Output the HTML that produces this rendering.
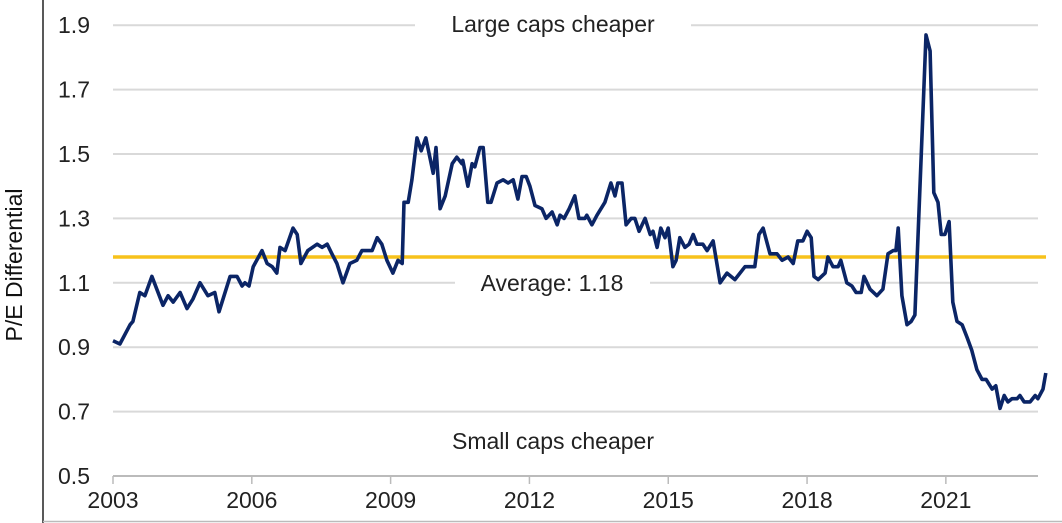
<!DOCTYPE html>
<html><head><meta charset="utf-8"><style>
body{margin:0;background:#fff;}
svg{display:block;font-family:"Liberation Sans",sans-serif;}
</style></head><body>
<svg id="chart" width="1062" height="523" viewBox="0 0 1062 523" xmlns="http://www.w3.org/2000/svg">
<rect x="0" y="0" width="1062" height="523" fill="#fff"/>
<line x1="43" y1="0" x2="43" y2="523" stroke="#222" stroke-width="1.5"/>
<line x1="43" y1="521.5" x2="1062" y2="521.5" stroke="#bbb" stroke-width="1.5"/>
<g id="grid"></g>
<g id="yticks"></g>
<g id="xticks"></g>
<text x="22" y="265" transform="rotate(-90 22 265)" text-anchor="middle" font-size="23" fill="#111">P/E Differential</text>
<g id="avg"></g>
<path id="series" fill="none" stroke="#0b2566" stroke-width="3.6" stroke-linejoin="round"/>
<rect x="415" y="6" width="276" height="34" fill="#fff"/>
<text x="553" y="32" text-anchor="middle" font-size="23" fill="#222">Large caps cheaper</text>
<rect x="425" y="424" width="256" height="34" fill="#fff"/>
<text x="553" y="449" text-anchor="middle" font-size="23" fill="#222">Small caps cheaper</text>
</svg>
<script>
const yTicks=[0.5,0.7,0.9,1.1,1.3,1.5,1.7,1.9];
const xTickYears=[2003,2006,2009,2012,2015,2018,2021];
const average=1.18;
const years=[2003.00,2003.15,2003.37,2003.43,2003.58,2003.69,2003.84,2004.08,2004.19,2004.30,2004.45,2004.60,2004.73,2004.88,2005.05,2005.20,2005.29,2005.53,2005.68,2005.79,2005.85,2005.94,2006.03,2006.22,2006.33,2006.44,2006.54,2006.61,2006.72,2006.89,2006.98,2007.06,2007.21,2007.41,2007.52,2007.63,2007.73,2007.84,2007.97,2008.12,2008.27,2008.38,2008.49,2008.60,2008.71,2008.81,2008.92,2009.05,2009.16,2009.25,2009.29,2009.38,2009.46,2009.57,2009.66,2009.76,2009.92,2009.98,2010.07,2010.18,2010.33,2010.43,2010.54,2010.56,2010.67,2010.76,2010.82,2010.93,2011.00,2011.10,2011.17,2011.30,2011.43,2011.54,2011.65,2011.75,2011.84,2011.93,2012.01,2012.12,2012.27,2012.36,2012.49,2012.60,2012.66,2012.75,2012.86,2012.98,2013.07,2013.20,2013.24,2013.35,2013.46,2013.63,2013.76,2013.85,2013.91,2014.00,2014.09,2014.20,2014.28,2014.37,2014.50,2014.61,2014.67,2014.76,2014.84,2014.93,2015.00,2015.10,2015.17,2015.25,2015.36,2015.45,2015.54,2015.62,2015.75,2015.84,2015.97,2016.12,2016.27,2016.44,2016.66,2016.77,2016.87,2016.96,2017.05,2017.20,2017.35,2017.46,2017.59,2017.70,2017.80,2017.91,2018.00,2018.09,2018.15,2018.24,2018.39,2018.45,2018.56,2018.67,2018.73,2018.86,2018.97,2019.06,2019.17,2019.23,2019.36,2019.51,2019.64,2019.75,2019.86,2019.92,2019.97,2020.05,2020.16,2020.25,2020.33,2020.57,2020.66,2020.74,2020.83,2020.90,2020.98,2021.07,2021.15,2021.24,2021.35,2021.46,2021.56,2021.67,2021.78,2021.87,2022.00,2022.08,2022.17,2022.26,2022.34,2022.43,2022.54,2022.60,2022.69,2022.82,2022.93,2022.99,2023.10,2023.16];
const values=[0.92,0.91,0.97,0.98,1.07,1.06,1.12,1.03,1.06,1.04,1.07,1.02,1.05,1.10,1.06,1.07,1.01,1.12,1.12,1.09,1.10,1.09,1.15,1.20,1.16,1.15,1.13,1.21,1.20,1.27,1.25,1.16,1.20,1.22,1.21,1.22,1.19,1.16,1.10,1.16,1.17,1.20,1.20,1.20,1.24,1.22,1.17,1.13,1.17,1.16,1.35,1.35,1.42,1.55,1.51,1.55,1.44,1.52,1.33,1.37,1.47,1.49,1.47,1.48,1.40,1.47,1.46,1.52,1.52,1.35,1.35,1.41,1.42,1.41,1.42,1.36,1.43,1.43,1.40,1.34,1.33,1.30,1.32,1.28,1.31,1.30,1.33,1.37,1.30,1.30,1.31,1.28,1.31,1.35,1.41,1.37,1.41,1.41,1.28,1.30,1.30,1.26,1.30,1.25,1.26,1.21,1.27,1.24,1.27,1.15,1.17,1.24,1.21,1.22,1.25,1.22,1.22,1.20,1.23,1.10,1.13,1.11,1.15,1.15,1.15,1.25,1.27,1.19,1.19,1.17,1.18,1.16,1.23,1.23,1.26,1.24,1.12,1.11,1.13,1.18,1.15,1.15,1.17,1.10,1.09,1.07,1.07,1.12,1.08,1.06,1.08,1.19,1.20,1.20,1.27,1.06,0.97,0.98,1.00,1.87,1.82,1.38,1.35,1.25,1.25,1.29,1.04,0.98,0.97,0.93,0.89,0.83,0.80,0.80,0.77,0.78,0.71,0.75,0.73,0.74,0.74,0.75,0.73,0.73,0.75,0.74,0.77,0.82];

const X0=113, PXY=46.27, Y0=476, PXV=322;
const xs=y=>X0+(y-2003)*PXY;
const ys=v=>Y0-(v-0.5)*PXV;
const NS="http://www.w3.org/2000/svg";
function mk(tag,attrs,parent){const e=document.createElementNS(NS,tag);for(const k in attrs)e.setAttribute(k,attrs[k]);parent.appendChild(e);return e;}
const grid=document.getElementById('grid'),yt=document.getElementById('yticks'),xt=document.getElementById('xticks');
yTicks.forEach(v=>{
  const l=mk('line',{x1:X0,x2:1038,y1:ys(v),y2:ys(v),stroke:v===0.5?'#bbb':'#d9d9d9','stroke-width':2},grid);
  
  
  const t=mk('text',{x:90,y:ys(v)+8,'text-anchor':'end','font-size':23,fill:'#222'},yt);
  t.textContent=v.toFixed(1);
  
  
});
xTickYears.forEach(yr=>{
  const l=mk('line',{x1:xs(yr),x2:xs(yr),y1:Y0,y2:Y0+8,stroke:'#bbb','stroke-width':1.5},xt);
  
  
  const t=mk('text',{x:xs(yr),y:508,'text-anchor':'middle','font-size':23,fill:'#222'},xt);
  t.textContent=yr;
  
  
});
const avg=document.getElementById('avg');
const al=mk('line',{x1:X0,x2:1046,y1:ys(average),y2:ys(average),stroke:'#f7c21b','stroke-width':3.5},avg);


const ab=mk('rect',{x:455,y:ys(average)+10,width:195,height:32,fill:'#fff'},avg);


const at=mk('text',{x:552,y:ys(average)+34,'text-anchor':'middle','font-size':23,fill:'#222'},avg);
at.textContent='Average: '+average.toFixed(2);


let d='';
years.forEach((y,i)=>{d+=(i?'L':'M')+xs(y).toFixed(1)+','+ys(values[i]).toFixed(1);});
document.getElementById('series').setAttribute('d',d);
</script>
</body></html>
